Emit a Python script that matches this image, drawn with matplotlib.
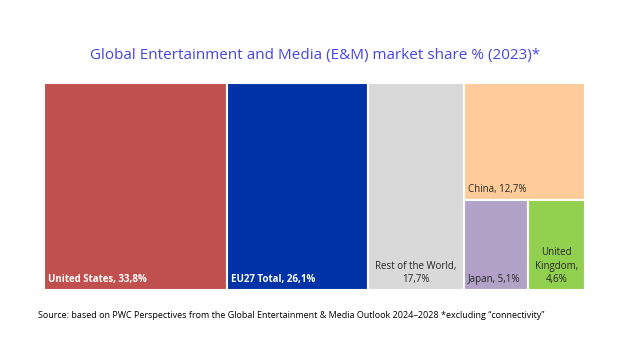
import matplotlib.pyplot as plt
from matplotlib.patches import Rectangle

plt.rcParams['font.family'] = ['Open Sans', 'DejaVu Sans']

# Dados (participação % no mercado global de E&M, 2023)
REGIOES = ["United States", "EU27 Total", "Rest of the World", "China", "Japan", "United Kingdom"]
VALORES = [33.8, 26.1, 17.7, 12.7, 5.1, 4.6]
ROTULOS = ["United States, 33,8%", "EU27 Total, 26,1%", "Rest of the World,\n17,7%",
           "China, 12,7%", "Japan, 5,1%", "United\nKingdom,\n4,6%"]
CORES = ["#C0504D", "#0033A8", "#D9D9D9", "#FFCC99", "#B3A2C7", "#92D050"]
COR_TEXTO = ["white", "white", "#262626", "#262626", "#262626", "#262626"]

fig = plt.figure(figsize=(6.36, 3.51), dpi=100)
ax = fig.add_axes([44 / 636, 1 - 290 / 351, 541 / 636, 207 / 351])
ax.set_xlim(0, 1)
ax.set_ylim(0, 1)
ax.axis("off")

total = sum(VALORES)
rects = []
x = 0.0
# três primeiras: colunas inteiras
for v in VALORES[:3]:
    w = v / total
    rects.append((x, 0.0, w, 1.0))
    x += w
# grupo da direita: China em cima, Japão e Reino Unido embaixo
resto = VALORES[3:]
wg = sum(resto) / total
h_china = resto[0] / sum(resto)
rects.append((x, 1 - h_china, wg, h_china))
base = sum(resto[1:])
xx = x
for v in resto[1:]:
    w = wg * v / base
    rects.append((xx, 0.0, w, 1 - h_china))
    xx += w

for i, (rx, ry, rw, rh) in enumerate(rects):
    ax.add_patch(Rectangle((rx, ry), rw, rh, facecolor=CORES[i], edgecolor="white", linewidth=1.5))

fs = 7
pad_x = 4 / 541
pad_y = 5 / 207
# rótulos
ax.text(rects[0][0] + pad_x, pad_y, ROTULOS[0], color=COR_TEXTO[0], fontsize=fs, fontweight="bold", ha="left", va="bottom")
ax.text(rects[1][0] + pad_x, pad_y, ROTULOS[1], color=COR_TEXTO[1], fontsize=fs, fontweight="bold", ha="left", va="bottom")
ax.text(rects[2][0] + rects[2][2] / 2, pad_y, ROTULOS[2], color=COR_TEXTO[2], fontsize=fs, ha="center", va="bottom", linespacing=1.3)
ax.text(rects[3][0] + pad_x, rects[3][1] + pad_y, ROTULOS[3], color=COR_TEXTO[3], fontsize=fs, ha="left", va="bottom")
ax.text(rects[4][0] + pad_x, pad_y, ROTULOS[4], color=COR_TEXTO[4], fontsize=fs, ha="left", va="bottom")
ax.text(rects[5][0] + rects[5][2] / 2, pad_y, ROTULOS[5], color=COR_TEXTO[5], fontsize=fs, ha="center", va="bottom", linespacing=1.3)

fig.text(315 / 636, 1 - 56 / 351, "Global Entertainment and Media (E&M) market share % (2023)*",
         color="#4545E0", fontsize=11, ha="center", va="center")
fig.text(38 / 636, 1 - 315 / 351,
         "Source: based on PWC Perspectives from the Global Entertainment & Media Outlook 2024\u20132028 *excluding \u201cconnectivity\u201d",
         color="black", fontsize=6.5, ha="left", va="center")

fig.savefig("out.png", dpi=100)
